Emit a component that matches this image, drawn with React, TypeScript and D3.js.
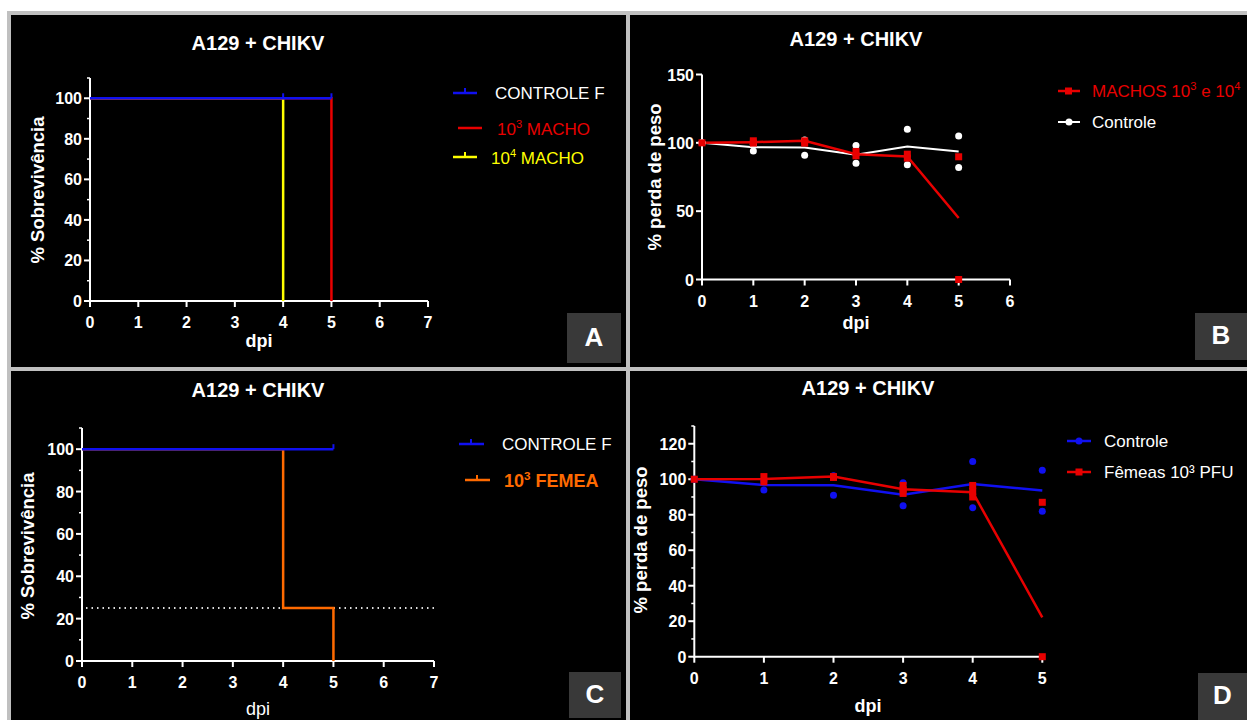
import * as d3 from "d3";
import React from "react";

const W = 1247;
const H = 720;
const font = "'Liberation Sans', Arial, sans-serif";

// survival steps: [dpi, % survival]
const survAControle = [[0, 100], [5, 100]];
const survAMacho3 = [[0, 100], [5, 0]];
const survAMacho4 = [[0, 100], [4, 0]];
const survACensor = [4, 5];
const survCControle = [[0, 100], [5, 100]];
const survCFemea3 = [[0, 100], [4, 25], [5, 0]];
const survCCensor = [5];
const survCRef = 25;

// weight (% of initial) per dpi
const dpiDays = [0, 1, 2, 3, 4, 5];
const controlePts = [[100, 100], [99, 94], [102, 91], [98, 85], [110, 84], [105, 82]];
const controleMean = [100, 96.8, 96.6, 91.2, 97.3, 93.7];
const machosPts = [[100], [101.5, 99.8], [101.5, 99.8], [93.7, 90.5], [91.7, 88.8], [89.8, 0]];
const machosMean = [100, 100.5, 101.5, 91.7, 90, 45];
const femeasPts = [[100], [101.5, 98.5], [101.5, 101], [96.5, 94, 92], [96.5, 93, 90], [87, 0]];
const femeasMean = [100, 100.2, 101.5, 94.4, 92.7, 22.2];

const BLUE = "#1010f0";
const RED = "#e80000";
const YELLOW = "#ffff00";
const ORANGE = "#ff6a00";

function Axes({ x, y, xTicks, yTicks, yMinor = [], fs = 16 }) {
  const [x0, x1] = x.range();
  const [y0, y1] = y.range();
  return (
    <g stroke="#fff" fill="#fff" fontFamily={font} fontWeight="bold" fontSize={fs}>
      <line x1={x0} x2={x1} y1={y0} y2={y0} strokeWidth={2} />
      <line x1={x0} x2={x0} y1={y0 + 1} y2={y1} strokeWidth={2} />
      {xTicks.map((t) => (
        <g key={"x" + t}>
          <line x1={x(t)} x2={x(t)} y1={y0} y2={y0 + 6} strokeWidth={2} />
          <text x={x(t)} y={y0 + 27} stroke="none" textAnchor="middle">{t}</text>
        </g>
      ))}
      {yTicks.map((t) => (
        <g key={"y" + t}>
          <line x1={x0 - 6} x2={x0} y1={y(t)} y2={y(t)} strokeWidth={2} />
          <text x={x0 - 8} y={y(t) + 6} stroke="none" textAnchor="end">{t}</text>
        </g>
      ))}
      {yMinor.map((t) => (
        <line key={"m" + t} x1={x0 - 3} x2={x0} y1={y(t)} y2={y(t)} strokeWidth={1.5} />
      ))}
    </g>
  );
}

function Title({ x, y, children }) {
  return (
    <text x={x} y={y} fill="#fff" fontFamily={font} fontWeight="bold" fontSize={20} textAnchor="middle" dominantBaseline="middle">
      {children}
    </text>
  );
}

function YLabel({ x, y, children }) {
  return (
    <text transform={`translate(${x},${y}) rotate(-90)`} fill="#fff" fontFamily={font} fontWeight="bold" fontSize={18.5} textAnchor="middle" dominantBaseline="middle">
      {children}
    </text>
  );
}

function Corner({ x, y, w, h, label }) {
  return (
    <g>
      <rect x={x} y={y} width={w} height={h} fill="#393939" />
      <text x={x + w / 2} y={y + h / 2 + 1} fill="#fff" fontFamily={font} fontWeight="bold" fontSize={26} textAnchor="middle" dominantBaseline="middle">
        {label}
      </text>
    </g>
  );
}

const step = (x, y) => d3.line().x((d) => x(d[0])).y((d) => y(d[1])).curve(d3.curveStepAfter);

function Sup({ base, sup, rest }) {
  return (
    <>
      {base}
      <tspan fontSize="0.65em" dy={-7}>{sup}</tspan>
      <tspan dy={7}>{rest}</tspan>
    </>
  );
}

function PanelA() {
  const x = d3.scaleLinear().domain([0, 7]).range([90, 428]);
  const y = d3.scaleLinear().domain([0, 110]).range([301, 78]);
  const line = step(x, y);
  return (
    <g>
      <Title x={258} y={45}>A129 + CHIKV</Title>
      <Axes x={x} y={y} xTicks={d3.range(0, 8)} yTicks={d3.range(0, 101, 20)} yMinor={d3.range(10, 111, 20)} />
      <path d={line(survAMacho4)} fill="none" stroke={YELLOW} strokeWidth={2.5} />
      <path d={line(survAMacho3)} fill="none" stroke={RED} strokeWidth={2.5} />
      <path d={line(survAControle)} fill="none" stroke={BLUE} strokeWidth={2.5} />
      {survACensor.map((t) => (
        <line key={t} x1={x(t)} x2={x(t)} y1={y(100)} y2={y(100) - 5} stroke={BLUE} strokeWidth={2} />
      ))}
      <YLabel x={39} y={190}>% Sobrevivência</YLabel>
      <text x={259} y={347} fill="#fff" fontFamily={font} fontWeight="bold" fontSize={18} textAnchor="middle">dpi</text>
      <g fontFamily={font} fontSize={17}>
        <line x1={453} x2={477} y1={93} y2={93} stroke={BLUE} strokeWidth={2.5} />
        <line x1={465} x2={465} y1={93} y2={88} stroke={BLUE} strokeWidth={2} />
        <text x={495} y={99} fill="#fff">CONTROLE F</text>
        <line x1={458} x2={482} y1={128} y2={128} stroke={RED} strokeWidth={2.5} />
        <text x={497} y={135} fill={RED}><Sup base="10" sup="3" rest=" MACHO" /></text>
        <line x1={453} x2={477} y1={157} y2={157} stroke={YELLOW} strokeWidth={2.5} />
        <line x1={465} x2={465} y1={157} y2={152} stroke={YELLOW} strokeWidth={2} />
        <text x={491} y={164} fill={YELLOW}><Sup base="10" sup="4" rest=" MACHO" /></text>
      </g>
      <Corner x={567} y={313} w={54} h={50} label="A" />
    </g>
  );
}

function PanelC() {
  const x = d3.scaleLinear().domain([0, 7]).range([82, 434]);
  const y = d3.scaleLinear().domain([0, 110]).range([661, 428]);
  const line = step(x, y);
  return (
    <g>
      <Title x={258} y={392}>A129 + CHIKV</Title>
      <line x1={x(0) + 4} x2={x(7)} y1={y(survCRef)} y2={y(survCRef)} stroke="#ddd" strokeWidth={2} strokeDasharray="1.5 4" />
      <Axes x={x} y={y} xTicks={d3.range(0, 8)} yTicks={d3.range(0, 101, 20)} yMinor={d3.range(10, 111, 20)} />
      <path d={line(survCFemea3)} fill="none" stroke={ORANGE} strokeWidth={2.5} />
      <path d={line(survCControle)} fill="none" stroke={BLUE} strokeWidth={2.5} />
      {survCCensor.map((t) => (
        <line key={t} x1={x(t)} x2={x(t)} y1={y(100)} y2={y(100) - 5} stroke={BLUE} strokeWidth={2} />
      ))}
      <YLabel x={29} y={546}>% Sobrevivência</YLabel>
      <text x={258} y={715} fill="#fff" fontFamily={font} fontSize={18} textAnchor="middle">dpi</text>
      <g fontFamily={font} fontSize={17}>
        <line x1={459} x2={484} y1={444} y2={444} stroke={BLUE} strokeWidth={2.5} />
        <line x1={471} x2={471} y1={444} y2={439} stroke={BLUE} strokeWidth={2} />
        <text x={502} y={450} fill="#fff">CONTROLE F</text>
        <line x1={465} x2={490} y1={480} y2={480} stroke={ORANGE} strokeWidth={2.5} />
        <line x1={477} x2={477} y1={480} y2={475} stroke={ORANGE} strokeWidth={2} />
        <text x={504} y={487} fill={ORANGE} fontWeight="bold" fontSize={18}><Sup base="10" sup="3" rest=" FEMEA" /></text>
      </g>
      <Corner x={569} y={672} w={52} h={46} label="C" />
    </g>
  );
}

function Dots({ x, y, pts, color, shape }) {
  return (
    <g fill={color}>
      {pts.flatMap((vals, i) =>
        vals.map((v, j) =>
          shape === "square" ? (
            <rect key={i + "-" + j} x={x(dpiDays[i]) - 3.5} y={y(v) - 3.5} width={7} height={7} />
          ) : (
            <circle key={i + "-" + j} cx={x(dpiDays[i])} cy={y(v)} r={3.5} />
          )
        )
      )}
    </g>
  );
}

function PanelB() {
  const x = d3.scaleLinear().domain([0, 6]).range([702, 1010]);
  const y = d3.scaleLinear().domain([0, 150]).range([279.5, 74.5]);
  const line = d3.line().x((d, i) => x(dpiDays[i])).y((d) => y(d));
  return (
    <g>
      <Title x={856} y={41}>A129 + CHIKV</Title>
      <Axes x={x} y={y} xTicks={d3.range(0, 7)} yTicks={[0, 50, 100, 150]} />
      <path d={line(controleMean)} fill="none" stroke="#fff" strokeWidth={2} />
      <path d={line(machosMean)} fill="none" stroke={RED} strokeWidth={2.5} />
      <Dots x={x} y={y} pts={controlePts} color="#fff" shape="circle" />
      <Dots x={x} y={y} pts={machosPts} color={RED} shape="square" />
      <YLabel x={656} y={177}>% perda de peso</YLabel>
      <text x={856} y={329} fill="#fff" fontFamily={font} fontWeight="bold" fontSize={18} textAnchor="middle">dpi</text>
      <g fontFamily={font} fontSize={17}>
        <line x1={1058} x2={1080} y1={91} y2={91} stroke={RED} strokeWidth={2.5} />
        <rect x={1065} y={87.5} width={7} height={7} fill={RED} />
        <text x={1092} y={97} fill={RED}>MACHOS <Sup base="10" sup="3" rest=" e 10" /><tspan fontSize="0.65em" dy={-7}>4</tspan></text>
        <line x1={1058} x2={1080} y1={122} y2={122} stroke="#fff" strokeWidth={2} />
        <circle cx={1069} cy={122} r={3.5} fill="#fff" />
        <text x={1092} y={128} fill="#fff">Controle</text>
      </g>
      <Corner x={1195} y={313} w={52} h={47} label="B" />
    </g>
  );
}

function PanelD() {
  const x = d3.scaleLinear().domain([0, 5]).range([694.3, 1042.3]);
  const y = d3.scaleLinear().domain([0, 130]).range([656.7, 426]);
  const line = d3.line().x((d, i) => x(dpiDays[i])).y((d) => y(d));
  return (
    <g>
      <Title x={868} y={390}>A129 + CHIKV</Title>
      <Axes x={x} y={y} xTicks={d3.range(0, 6)} yTicks={d3.range(0, 121, 20)} yMinor={d3.range(10, 131, 20)} />
      <path d={line(controleMean)} fill="none" stroke={BLUE} strokeWidth={2.5} />
      <path d={line(femeasMean)} fill="none" stroke={RED} strokeWidth={2.5} />
      <Dots x={x} y={y} pts={controlePts} color={BLUE} shape="circle" />
      <Dots x={x} y={y} pts={femeasPts} color={RED} shape="square" />
      <YLabel x={642} y={540}>% perda de peso</YLabel>
      <text x={868} y={712} fill="#fff" fontFamily={font} fontWeight="bold" fontSize={18} textAnchor="middle">dpi</text>
      <g fontFamily={font} fontSize={17}>
        <line x1={1067} x2={1091} y1={441} y2={441} stroke={BLUE} strokeWidth={2.5} />
        <circle cx={1079} cy={441} r={3.5} fill={BLUE} />
        <text x={1104} y={447} fill="#fff">Controle</text>
        <line x1={1067} x2={1091} y1={472} y2={472} stroke={RED} strokeWidth={2.5} />
        <rect x={1075.5} y={468.5} width={7} height={7} fill={RED} />
        <text x={1104} y={478} fill="#fff">Fêmeas 10³ PFU</text>
      </g>
      <Corner x={1198} y={673} w={49} h={47} label="D" />
    </g>
  );
}

export default function App() {
  return (
    <svg width={W} height={H} style={{ position: "absolute", left: 0, top: 0, display: "block" }}>
      <rect width={W} height={H} fill="#fff" />
      <rect x={7} y={11} width={W - 7} height={H - 11} fill="#c0c0c0" />
      <rect x={11} y={15} width={615} height={352} fill="#000" />
      <rect x={630} y={15} width={W - 630} height={352} fill="#000" />
      <rect x={11} y={371} width={615} height={H - 371} fill="#000" />
      <rect x={630} y={371} width={W - 630} height={H - 371} fill="#000" />
      <PanelA />
      <PanelB />
      <PanelC />
      <PanelD />
    </svg>
  );
}
